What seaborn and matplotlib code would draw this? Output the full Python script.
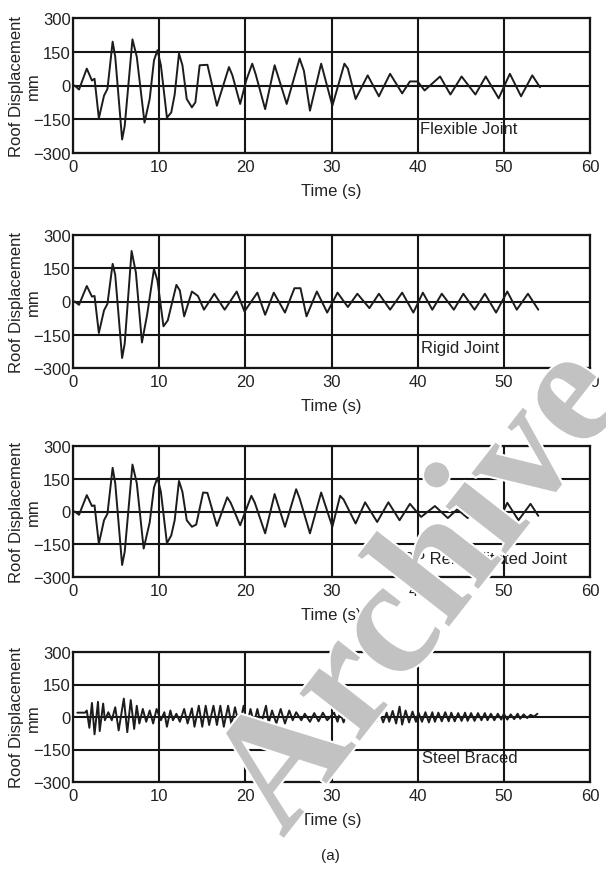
import matplotlib
matplotlib.use("Agg")
import matplotlib.pyplot as plt
import matplotlib.patheffects as pe
import seaborn as sns
import pandas as pd

# ---------------- data ----------------
time_ticks = [0, 10, 20, 30, 40, 50, 60]
disp_ticks = [-300, -150, 0, 150, 300]
panel_labels = ["Flexible Joint", "Rigid Joint", "FRP Rehabilitated Joint", "Steel Braced"]

t_flexible = [0.2, 0.7, 1.6, 2.2, 2.5, 3.0, 3.6, 4.0, 4.6, 4.9, 5.7, 6.0, 6.9, 7.4, 8.3,
              8.9, 9.4, 9.8, 10.2, 10.9, 11.4, 11.8, 12.3, 12.7, 13.2, 13.8, 14.2, 14.7, 15.6, 16.7,
              18.1, 18.5, 19.4, 20.1, 20.8, 21.2, 22.3, 23.4, 24.8, 26.3, 26.8, 27.5, 28.8, 30.1, 31.5,
              31.9, 32.8, 34.2, 35.5, 36.8, 38.2, 39.1, 40.0, 40.8, 42.6, 43.8, 45.1, 46.7, 47.9, 49.4,
              50.7, 52.0, 53.3, 54.2]
d_flexible = [0, -18, 75, 22, 30, -146, -45, -15, 195, 128, -240, -180, 205, 128, -165,
              -60, 112, 157, 90, -143, -120, -40, 142, 90, -60, -97, -75, 90, 92, -90,
              82, 45, -82, 22, 97, 50, -105, 90, -82, 120, 65, -112, 97, -90, 97,
              75, -60, 45, -48, 52, -35, 18, 18, -22, 40, -40, 40, -40, 40, -57,
              52, -48, 45, -8]

t_rigid = [0.2, 0.7, 1.6, 2.2, 2.5, 3.0, 3.6, 4.0, 4.6, 4.9, 5.7, 6.0, 6.8, 7.3, 8.0,
           8.6, 9.4, 9.8, 10.5, 11.0, 12.0, 12.4, 12.9, 13.8, 14.5, 15.2, 16.4, 17.6, 19.0, 19.9,
           21.4, 22.3, 23.3, 24.6, 25.7, 26.4, 27.1, 28.3, 29.5, 30.7, 31.9, 33.0, 34.4, 35.5, 36.8,
           38.2, 39.5, 40.6, 41.7, 42.8, 44.2, 45.3, 46.6, 47.8, 49.1, 50.4, 51.5, 52.8, 54.0]
d_rigid = [0, -15, 70, 22, 25, -142, -40, -10, 170, 120, -255, -190, 228, 130, -185,
           -60, 147, 95, -112, -85, 75, 50, -67, 45, 25, -37, 35, -37, 45, -45,
           40, -60, 40, -50, 60, 60, -67, 45, -50, 40, -25, 35, -30, 35, -37,
           40, -50, 40, -37, 35, -37, 35, -37, 35, -50, 45, -37, 35, -37]

t_frp = [0.2, 0.7, 1.6, 2.2, 2.5, 3.0, 3.6, 4.0, 4.6, 4.9, 5.7, 6.0, 6.9, 7.4, 8.2,
         8.9, 9.4, 9.8, 10.2, 10.9, 11.4, 11.8, 12.3, 12.7, 13.2, 13.8, 14.3, 15.1, 15.6, 16.7,
         17.9, 18.3, 19.4, 20.7, 21.1, 22.3, 23.4, 24.6, 25.9, 26.3, 27.5, 28.8, 30.1, 31.0, 31.4,
         32.8, 33.9, 35.3, 36.6, 37.9, 39.1, 40.4, 42.0, 43.5, 44.6, 45.8, 47.3, 49.3, 50.4, 51.7,
         53.1, 54.0]
d_frp = [0, -15, 75, 25, 28, -148, -40, -10, 200, 130, -245, -185, 215, 130, -170,
         -50, 110, 155, 90, -145, -110, -40, 140, 90, -40, -70, -60, 87, 85, -66,
         65, 40, -63, 72, 40, -100, 80, -70, 102, 60, -100, 87, -70, 72, 55,
         -55, 42, -48, 42, -40, 35, -25, 25, -30, 10, -30, 35, -55, 40, -40,
         35, -20]

t_steel = [0.5, 1.4, 1.6, 1.9, 2.2, 2.5, 2.9, 3.1, 3.5, 3.7, 4.1, 4.5, 4.9, 5.3, 5.9,
           6.3, 6.7, 7.1, 7.4, 7.7, 8.1, 8.5, 8.9, 9.3, 9.7, 10.2, 10.6, 10.9, 11.3, 11.6,
           12.0, 12.4, 12.9, 13.3, 13.8, 14.1, 14.6, 15.0, 15.4, 15.8, 16.3, 16.7, 17.1, 17.5, 18.0,
           18.4, 18.8, 19.3, 19.8, 20.2, 20.6, 21.0, 21.4, 21.8, 22.4, 22.7, 23.1, 23.6, 24.1, 24.6,
           25.1, 25.5, 25.9, 26.5, 26.9, 27.5, 28.0, 28.5, 29.0, 29.5,
           30.3, 30.7, 31.0, 31.4, 31.8, 32.2, 32.6, 33.0, 33.3, 33.7, 34.1, 34.5, 34.8, 35.2, 35.6,
           36.0, 36.4, 36.7, 37.1, 37.5, 37.9, 38.2, 38.6, 39.0, 39.4, 39.8, 40.1, 40.5, 40.9, 41.3,
           41.7, 42.0, 42.4, 42.8, 43.2, 43.6, 43.9, 44.3, 44.7, 45.1, 45.5, 45.8, 46.2, 46.6, 47.0,
           47.4, 47.8, 48.1, 48.5, 48.9, 49.3, 49.7, 50.0, 50.4, 50.8, 51.2, 51.6, 51.9, 52.3, 52.7,
           53.1, 53.5, 53.9]
d_steel = [20, 20, 30, -50, 65, -80, 70, -65, 62, -15, 22, -15, 45, -62, 85,
           -70, 78, -55, 52, -30, 37, -22, 30, -30, 37, -15, 22, -45, 30, -15,
           15, -22, 37, -30, 40, -45, 52, -45, 52, -37, 52, -37, 52, -45, 52,
           -37, 45, -45, 52, -37, 37, -30, 37, -37, 52, -30, 30, -30, 37, -30,
           30, -15, 22, -15, 15, -22, 18, -20, 20, -15,
           20, -22, 22, -25, 20, -22, 22, -25, 25, -22, 20, -25, 25, -20, 22,
           -25, 20, -22, 28, -30, 48, -35, 30, -25, 25, -22, 20, -22, 22, -25,
           22, -22, 20, -20, 22, -20, 20, -20, 18, -18, 20, -18, 18, -18, 18,
           -15, 18, -15, 15, -15, 15, -12, 15, -12, 12, -10, 15, -8, 12, -5,
           10, 2, 15]

series = [(t_flexible, d_flexible), (t_rigid, d_rigid), (t_frp, d_frp), (t_steel, d_steel)]

# ---------------- style ----------------
sns.set_theme(style="white")
plt.rcParams["font.family"] = ["Liberation Sans", "DejaVu Sans"]

fig = plt.figure(figsize=(6.06, 8.70), dpi=100)

W, H = 606.0, 870.0
left_px, right_px = 73, 590
panel_px = [(19, 154), (236, 369), (447, 578), (653, 783)]
label_pos = [(40.3, -193, "left"), (40.4, -208, "left"), (57.4, -215, "right"), (40.5, -187, "left")]

txt_col = "#222222"
for i, ((top, bot), (t, d)) in enumerate(zip(panel_px, series)):
    ax = fig.add_axes([left_px / W, 1 - bot / H, (right_px - left_px) / W, (bot - top) / H])
    df = pd.DataFrame({"Time (s)": t, "Roof Displacement": d})
    sns.lineplot(data=df, x="Time (s)", y="Roof Displacement", ax=ax,
                 color="#1c1c1c", lw=1.4, estimator=None, sort=False, zorder=3)
    ax.set_xlim(0, 60)
    ax.set_ylim(-300, 300)
    ax.set_xticks(time_ticks)
    ax.set_yticks(disp_ticks)
    ax.set_axisbelow(True)
    ax.grid(True, color="#151515", lw=1.5)
    for s in ax.spines.values():
        s.set_color("#151515")
        s.set_linewidth(1.6)
    ax.tick_params(axis="both", length=0, labelsize=12, colors=txt_col)
    ax.tick_params(axis="x", pad=4)
    ax.tick_params(axis="y", pad=1.5)
    ax.set_xlabel("Time (s)", fontsize=12, color=txt_col, labelpad=7)
    ax.set_ylabel("Roof Displacement\nmm", fontsize=12, color=txt_col, linespacing=1.15)
    ax.yaxis.set_label_coords(-0.062, 0.5)
    lx, ly, ha = label_pos[i]
    ax.text(lx, ly, panel_labels[i], fontsize=12, color=txt_col, ha=ha, va="center", zorder=4)

fig.text(0.546, 0.016, "(a)", fontsize=11, color=txt_col, ha="center", va="center")

wm_col = "#c2c2c2"
fig.text(0.70, 0.317, "Archive", fontsize=120, family="Liberation Serif", weight="bold",
         color=wm_col, rotation=52, ha="center", va="center", rotation_mode="anchor",
         path_effects=[pe.withStroke(linewidth=3, foreground="white")], zorder=10)

fig.savefig("out.png", dpi=100)
